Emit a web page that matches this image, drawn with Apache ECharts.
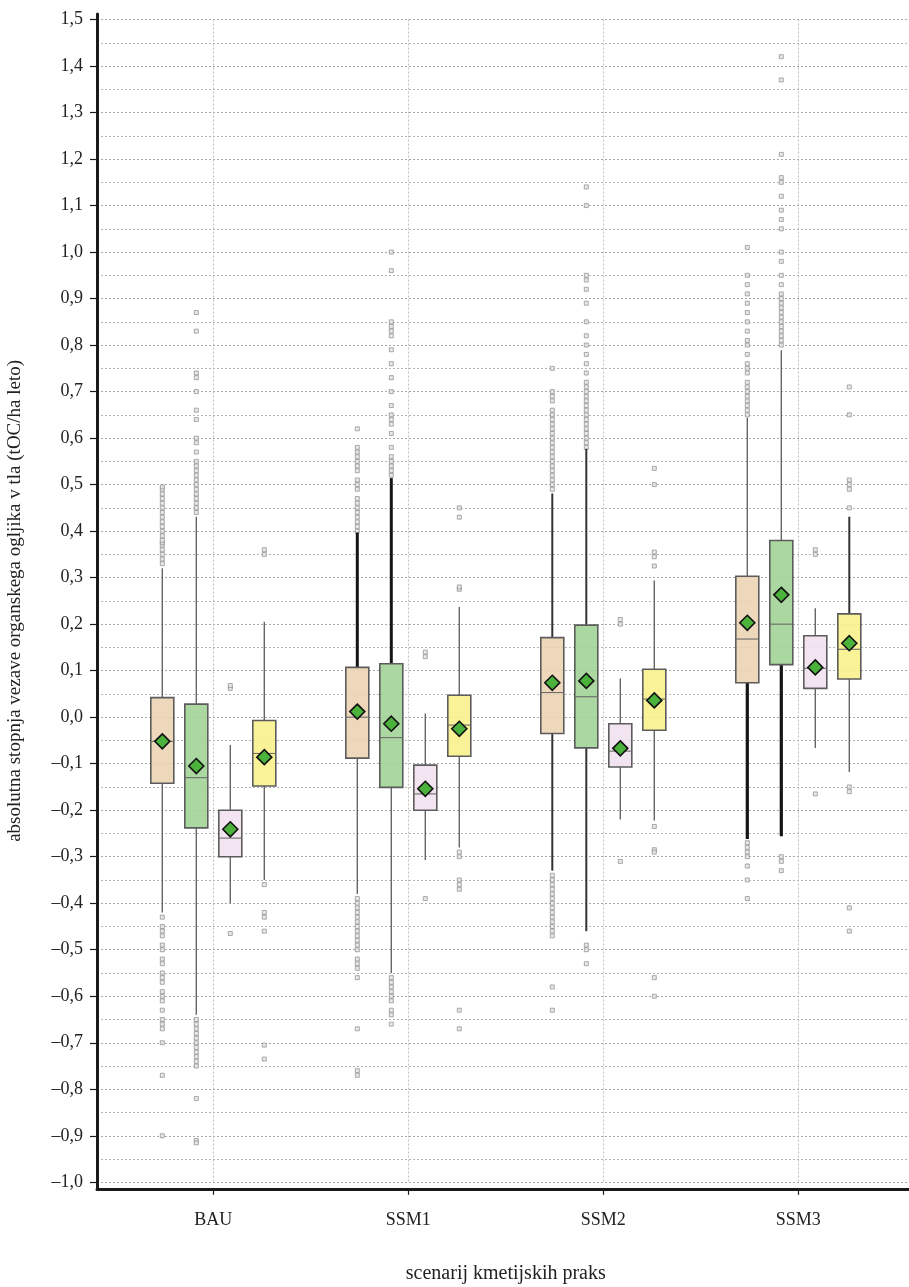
<!DOCTYPE html>
<html>
<head>
<meta charset="utf-8">
<script src="https://cdn.jsdelivr.net/npm/echarts@6/dist/echarts.min.js"></script>
<style>
  html, body { margin: 0; padding: 0; background: #fff; }
  #chart { width: 909px; height: 1287px; }
</style>
</head>
<body>
<div id="chart"></div>
<script>
// scenariji na osi x
const scenarios = ["BAU", "SSM1", "SSM2", "SSM3"];

// [spodnji brk, Q1, mediana, Q3, zgornji brk] po scenarijih
const tanBoxes = [
  [-0.42, -0.142, -0.052, 0.042, 0.32],
  [-0.38, -0.088, 0.0, 0.107, 0.397],
  [-0.33, -0.035, 0.053, 0.171, 0.481],
  [-0.262, 0.074, 0.168, 0.303, 0.644],
];
const greenBoxes = [
  [-0.64, -0.238, -0.13, 0.028, 0.431],
  [-0.55, -0.151, -0.044, 0.115, 0.514],
  [-0.46, -0.066, 0.044, 0.198, 0.577],
  [-0.256, 0.113, 0.2, 0.38, 0.789],
];
const pinkBoxes = [
  [-0.4, -0.3, -0.26, -0.2, -0.06],
  [-0.307, -0.2, -0.165, -0.103, 0.008],
  [-0.22, -0.107, -0.073, -0.014, 0.083],
  [-0.066, 0.062, 0.105, 0.175, 0.234],
];
const yellowBoxes = [
  [-0.35, -0.148, -0.078, -0.007, 0.205],
  [-0.28, -0.084, -0.017, 0.047, 0.237],
  [-0.222, -0.028, 0.039, 0.103, 0.294],
  [-0.118, 0.082, 0.146, 0.222, 0.431],
];

// povprecja
const tanMeans = [-0.052, 0.012, 0.074, 0.203];
const greenMeans = [-0.105, -0.014, 0.078, 0.263];
const pinkMeans = [-0.241, -0.154, -0.067, 0.107];
const yellowMeans = [-0.086, -0.025, 0.036, 0.159];

// osamelci
const tanOutliers = [
  [0.33, 0.34, 0.35, 0.36, 0.37, 0.375, 0.38, 0.39, 0.4, 0.41, 0.42, 0.43, 0.44, 0.45, 0.46, 0.47, 0.48, 0.49, 0.495,
   -0.43, -0.45, -0.46, -0.47, -0.49, -0.5, -0.52, -0.53, -0.55, -0.56, -0.57, -0.59, -0.6, -0.61, -0.63, -0.65, -0.66, -0.67, -0.7, -0.77, -0.9],
  [0.4, 0.41, 0.42, 0.43, 0.44, 0.45, 0.46, 0.47, 0.49, 0.5, 0.51, 0.53, 0.54, 0.55, 0.56, 0.57, 0.58, 0.62,
   -0.39, -0.4, -0.41, -0.42, -0.43, -0.44, -0.45, -0.46, -0.47, -0.48, -0.49, -0.5, -0.52, -0.53, -0.54, -0.56, -0.67, -0.76, -0.77],
  [0.49, 0.5, 0.51, 0.52, 0.53, 0.54, 0.55, 0.56, 0.57, 0.58, 0.59, 0.6, 0.61, 0.62, 0.63, 0.64, 0.65, 0.66, 0.68, 0.69, 0.7, 0.75,
   -0.34, -0.35, -0.36, -0.37, -0.38, -0.39, -0.4, -0.41, -0.42, -0.43, -0.44, -0.45, -0.46, -0.47, -0.58, -0.63],
  [0.65, 0.66, 0.67, 0.68, 0.69, 0.7, 0.71, 0.72, 0.74, 0.75, 0.76, 0.78, 0.8, 0.81, 0.83, 0.85, 0.87, 0.89, 0.91, 0.93, 0.95, 1.01,
   -0.27, -0.28, -0.29, -0.3, -0.32, -0.35, -0.39],
];
const greenOutliers = [
  [0.44, 0.45, 0.46, 0.47, 0.48, 0.49, 0.5, 0.51, 0.52, 0.53, 0.54, 0.55, 0.57, 0.59, 0.6, 0.64, 0.66, 0.7, 0.73, 0.74, 0.83, 0.87,
   -0.65, -0.66, -0.67, -0.68, -0.69, -0.7, -0.71, -0.72, -0.73, -0.74, -0.75, -0.82, -0.91, -0.915],
  [0.52, 0.53, 0.54, 0.55, 0.56, 0.58, 0.61, 0.63, 0.64, 0.65, 0.67, 0.7, 0.73, 0.76, 0.79, 0.82, 0.83, 0.84, 0.85, 0.96, 1.0,
   -0.56, -0.57, -0.58, -0.59, -0.6, -0.61, -0.63, -0.64, -0.66],
  [0.58, 0.59, 0.6, 0.61, 0.62, 0.63, 0.64, 0.65, 0.66, 0.67, 0.68, 0.69, 0.7, 0.71, 0.72, 0.74, 0.76, 0.78, 0.8, 0.82, 0.85, 0.89, 0.92, 0.94, 0.95, 1.1, 1.14,
   -0.49, -0.5, -0.53],
  [0.8, 0.81, 0.82, 0.83, 0.84, 0.85, 0.86, 0.87, 0.88, 0.89, 0.9, 0.91, 0.93, 0.95, 0.98, 1.0, 1.05, 1.07, 1.09, 1.12, 1.15, 1.16, 1.21, 1.37, 1.42,
   -0.3, -0.31, -0.33],
];
const pinkOutliers = [
  [0.062, 0.068, -0.465],
  [0.13, 0.14, -0.39],
  [0.2, 0.21, -0.31],
  [0.35, 0.36, -0.165],
];
const yellowOutliers = [
  [0.35, 0.36, -0.36, -0.42, -0.43, -0.46, -0.705, -0.735],
  [0.275, 0.28, 0.43, 0.45, -0.29, -0.3, -0.35, -0.36, -0.37, -0.63, -0.67],
  [0.325, 0.345, 0.355, 0.5, 0.535, -0.235, -0.285, -0.29, -0.56, -0.6],
  [0.45, 0.49, 0.5, 0.51, 0.65, 0.71, -0.15, -0.16, -0.41, -0.46],
];

// --- izgled ---
const FONT = "Liberation Serif";
const BOX_W = 23;
// debelejsi brki (skupina-scenarij-stran)
const heavyWhiskers = {
  "0-1-up": 3, "1-1-up": 3,
  "0-2-up": 2, "0-2-dn": 2, "1-2-up": 2, "1-2-dn": 2,
  "0-3-dn": 3.2, "1-3-dn": 3.2, "3-3-up": 2,
};

const groups = [
  { name: "tan", boxes: tanBoxes, means: tanMeans, outliers: tanOutliers, color: "rgba(235,211,178,0.88)", shift: -51 },
  { name: "green", boxes: greenBoxes, means: greenMeans, outliers: greenOutliers, color: "rgba(162,211,150,0.9)", shift: -17 },
  { name: "pink", boxes: pinkBoxes, means: pinkMeans, outliers: pinkOutliers, color: "rgba(241,226,239,0.9)", shift: 17 },
  { name: "yellow", boxes: yellowBoxes, means: yellowMeans, outliers: yellowOutliers, color: "rgba(249,241,140,0.9)", shift: 51 },
];

const fmt = (v) => v.toFixed(1).replace(".", ",").replace("-", "\u2013");

function boxSeries(g, gi) {
  return {
    type: "custom",
    name: g.name,
    xAxisIndex: 2,
    yAxisIndex: 2,
    z: 3,
    data: g.boxes.map((b, i) => [i].concat(b)),
    encode: { x: 0, y: [1, 2, 3, 4, 5] },
    renderItem: (params, api) => {
      const cat = api.value(0);
      const x = api.coord([cat, 0])[0] + g.shift;
      const y = (k) => api.coord([cat, api.value(k)])[1];
      const lo = y(1), q1 = y(2), med = y(3), q3 = y(4), hi = y(5);
      const upW = heavyWhiskers[gi + "-" + cat + "-up"];
      const dnW = heavyWhiskers[gi + "-" + cat + "-dn"];
      const wStyle = (w) => ({
        stroke: w ? (w > 2.5 ? "#151515" : "#333") : "#666",
        lineWidth: w || 1.4,
      });
      return {
        type: "group",
        children: [
          { type: "line", shape: { x1: x, y1: hi, x2: x, y2: q3 }, style: wStyle(upW) },
          { type: "line", shape: { x1: x, y1: q1, x2: x, y2: lo }, style: wStyle(dnW) },
          {
            type: "rect",
            shape: { x: x - BOX_W / 2, y: q3, width: BOX_W, height: q1 - q3 },
            style: { fill: g.color, stroke: "#5c5c5c", lineWidth: 1.6 },
          },
          {
            type: "line",
            shape: { x1: x - BOX_W / 2, y1: med, x2: x + BOX_W / 2, y2: med },
            style: { stroke: "#6b6b6b", lineWidth: 1.1 },
          },
        ],
      };
    },
  };
}

function outlierSeries(g) {
  const pts = [];
  g.outliers.forEach((list, i) => list.forEach((v) => pts.push([i, v])));
  return {
    type: "scatter",
    name: g.name + " outliers",
    xAxisIndex: 2,
    yAxisIndex: 2,
    z: 2,
    symbol: "rect",
    symbolSize: 4,
    symbolOffset: [g.shift, 0],
    itemStyle: { color: "#e6e6e6", borderColor: "#8c8c8c", borderWidth: 0.8, opacity: 0.9 },
    data: pts,
  };
}

function meanSeries(g) {
  return {
    type: "scatter",
    name: g.name + " mean",
    xAxisIndex: 2,
    yAxisIndex: 2,
    z: 5,
    symbol: "diamond",
    symbolSize: [15, 15],
    symbolOffset: [g.shift, 0],
    itemStyle: { color: "#4bb23c", borderColor: "#111", borderWidth: 1.6, opacity: 1 },
    data: g.means.map((m, i) => [i, m]),
  };
}

const dotted = (c) => ({ show: true, lineStyle: { color: c, type: [2, 2], width: 1 } });

const option = {
  animation: false,
  backgroundColor: "#fff",
  textStyle: { fontFamily: FONT },
  grid: [
    // okvir (crni osi)
    { left: 97, right: 0, top: 14, bottom: 98, outerBoundsMode: "none" },
    // vrednostna os z mrezo
    { left: 97, right: 0, top: 19.5, bottom: 104.7, outerBoundsMode: "none" },
    // kategorije in skatle
    { left: 213.3, right: 110.7, top: 19.5, bottom: 104.7, outerBoundsMode: "none" },
  ],
  xAxis: [
    {
      gridIndex: 0, type: "value", min: 0, max: 1,
      axisLine: { show: true, onZero: false, lineStyle: { color: "#1a1a1a", width: 3 } },
      axisTick: { show: false }, axisLabel: { show: false }, splitLine: { show: false },
    },
    {
      gridIndex: 1, type: "value", min: 0, max: 1, show: false,
    },
    {
      gridIndex: 2, type: "category", data: scenarios, boundaryGap: false,
      position: "bottom",
      offset: 6.5,
      axisLine: { show: false, onZero: false },
      axisTick: { show: true, length: 6, lineStyle: { color: "#1a1a1a", width: 1.2 } },
      axisLabel: { color: "#222", fontFamily: FONT, fontSize: 18, margin: 22 },
      splitLine: dotted("#bdbdbd"),
      name: "scenarij kmetijskih praks",
      nameLocation: "middle",
      nameGap: 75,
      nameTextStyle: { color: "#222", fontFamily: FONT, fontSize: 20 },
    },
  ],
  yAxis: [
    {
      gridIndex: 0, type: "value", min: 0, max: 1,
      axisLine: { show: true, onZero: false, lineStyle: { color: "#1a1a1a", width: 3 } },
      axisTick: { show: false }, axisLabel: { show: false }, splitLine: { show: false },
    },
    {
      gridIndex: 1, type: "value", min: -1, max: 1.5, interval: 0.1,
      axisLine: { show: false, onZero: false },
      axisTick: { show: true, inside: false, length: 7, lineStyle: { color: "#1a1a1a", width: 1.2 } },
      axisLabel: { color: "#222", fontFamily: FONT, fontSize: 18, margin: 14, formatter: fmt },
      splitLine: dotted("#a8a8a8"),
      minorTick: { show: false, splitNumber: 2 },
      minorSplitLine: dotted("#b5b5b5"),
      name: "absolutna stopnja vezave organskega ogljika v tla (tOC/ha leto)",
      nameLocation: "middle",
      nameGap: 72,
      nameTextStyle: { color: "#222", fontFamily: FONT, fontSize: 19 },
    },
    {
      gridIndex: 2, type: "value", min: -1, max: 1.5, show: false,
    },
  ],
  series: []
    .concat(groups.map(outlierSeries))
    .concat(groups.map(boxSeries))
    .concat(groups.map(meanSeries)),
};

const chart = echarts.init(document.getElementById("chart"));
chart.setOption(option);
</script>
</body>
</html>
